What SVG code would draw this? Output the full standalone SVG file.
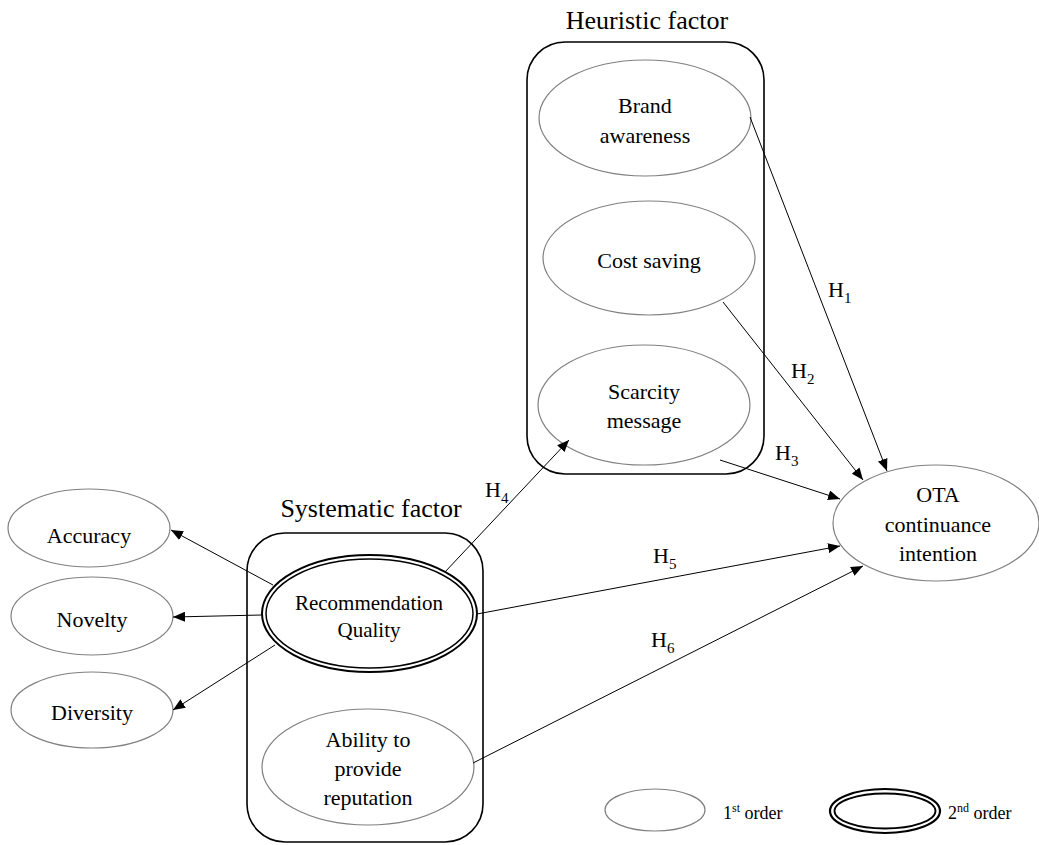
<svg xmlns="http://www.w3.org/2000/svg" width="1039" height="845" viewBox="0 0 1039 845">
<defs>
<style>
.t{font-family:"Liberation Serif","Times New Roman",serif;fill:#000;text-anchor:middle}
.n{font-size:22px}
.rq{font-size:21px}
.title{font-size:26px}
.h{font-family:"Liberation Serif","Times New Roman",serif;font-size:22px;fill:#000}
.sub{font-size:15px}
.leg{font-family:"Liberation Serif","Times New Roman",serif;font-size:18px;fill:#000}
.sup{font-size:12px}
.e1{fill:#fff;stroke:#808080;stroke-width:1.2}
.box{fill:none;stroke:#000;stroke-width:1.6}
.c{stroke:#000;stroke-width:1;fill:none;marker-end:url(#ah)}
</style>
<marker id="ah" viewBox="0 0 12 10" refX="12" refY="5" markerWidth="12" markerHeight="10" markerUnits="userSpaceOnUse" orient="auto">
<path d="M0,0 L12,5 L0,10 Z" fill="#000"/>
</marker>
</defs>
<rect width="1039" height="845" fill="#fff"/>

<g id="heuristic-factor">
<rect class="box" x="527" y="42" width="237" height="432" rx="38" ry="38"/>
<text class="t title" x="647" y="29">Heuristic factor</text>
</g>
<g id="systematic-factor">
<rect class="box" x="247" y="533" width="236" height="309" rx="38" ry="38"/>
<text class="t title" x="371" y="517">Systematic factor</text>
</g>

<g id="brand-awareness">
<ellipse class="e1" cx="645" cy="118" rx="106" ry="58"/>
<text class="t n" x="645" y="113">Brand</text>
<text class="t n" x="645" y="143">awareness</text>
</g>
<g id="cost-saving">
<ellipse class="e1" cx="649" cy="258" rx="106" ry="57"/>
<text class="t n" x="649" y="268">Cost saving</text>
</g>
<g id="scarcity-message">
<ellipse class="e1" cx="644" cy="405" rx="106" ry="60"/>
<text class="t n" x="644" y="399">Scarcity</text>
<text class="t n" x="644" y="428">message</text>
</g>

<g id="recommendation-quality">
<ellipse cx="369.5" cy="613.5" rx="107.5" ry="58.5" fill="#fff" stroke="#000" stroke-width="2"/>
<ellipse cx="369.5" cy="613.5" rx="103.5" ry="54.5" fill="none" stroke="#000" stroke-width="1.5"/>
<text class="t rq" x="369" y="610">Recommendation</text>
<text class="t rq" x="369" y="637">Quality</text>
</g>
<g id="ability-reputation">
<ellipse class="e1" cx="368" cy="767" rx="106" ry="58"/>
<text class="t n" x="368" y="747">Ability to</text>
<text class="t n" x="368" y="776">provide</text>
<text class="t n" x="368" y="805">reputation</text>
</g>

<g id="accuracy">
<ellipse class="e1" cx="89" cy="528" rx="81" ry="39"/>
<text class="t n" x="89" y="543">Accuracy</text>
</g>
<g id="novelty">
<ellipse class="e1" cx="92" cy="616" rx="81" ry="39"/>
<text class="t n" x="92" y="627">Novelty</text>
</g>
<g id="diversity">
<ellipse class="e1" cx="92" cy="710" rx="81" ry="38"/>
<text class="t n" x="92" y="720">Diversity</text>
</g>

<g id="ota-continuance">
<ellipse class="e1" cx="936" cy="523" rx="103" ry="58"/>
<text class="t n" x="938" y="502">OTA</text>
<text class="t n" x="938" y="532">continuance</text>
<text class="t n" x="938" y="561">intention</text>
</g>

<g id="connectors">
<line class="c" x1="750" y1="117" x2="887" y2="471"/>
<line class="c" x1="723" y1="302" x2="863" y2="480"/>
<line class="c" x1="720" y1="460" x2="840" y2="499"/>
<line class="c" x1="445" y1="572" x2="569" y2="440"/>
<line class="c" x1="477" y1="614" x2="840" y2="546"/>
<line class="c" x1="473" y1="763" x2="863" y2="566"/>
<line class="c" x1="273" y1="585" x2="171" y2="530"/>
<line class="c" x1="262" y1="615" x2="173" y2="617"/>
<line class="c" x1="275" y1="645" x2="173" y2="710"/>
</g>

<g id="labels">
<text class="h" x="828" y="297">H<tspan class="sub" dy="6">1</tspan></text>
<text class="h" x="791" y="378">H<tspan class="sub" dy="6">2</tspan></text>
<text class="h" x="775" y="460">H<tspan class="sub" dy="6">3</tspan></text>
<text class="h" x="485" y="497">H<tspan class="sub" dy="6">4</tspan></text>
<text class="h" x="653" y="563">H<tspan class="sub" dy="6">5</tspan></text>
<text class="h" x="651" y="647">H<tspan class="sub" dy="6">6</tspan></text>
</g>

<g id="legend">
<ellipse class="e1" cx="655" cy="810" rx="50" ry="21"/>
<text class="leg" x="723" y="819">1<tspan class="sup" dy="-7">st</tspan><tspan dy="7"> order</tspan></text>
<ellipse cx="885" cy="811" rx="55" ry="22" fill="#fff" stroke="#000" stroke-width="2.2"/>
<ellipse cx="885" cy="811" rx="50.5" ry="17.5" fill="none" stroke="#000" stroke-width="1.8"/>
<text class="leg" x="948" y="819">2<tspan class="sup" dy="-7">nd</tspan><tspan dy="7"> order</tspan></text>
</g>
</svg>
